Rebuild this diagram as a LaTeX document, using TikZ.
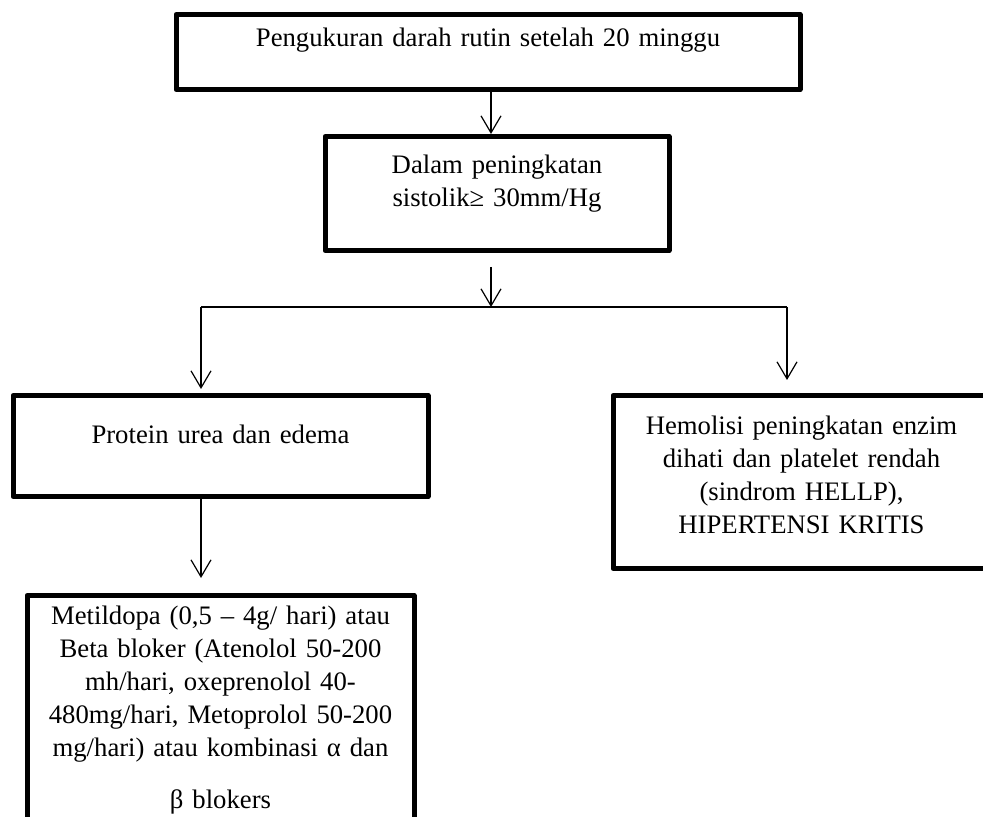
\documentclass[tikz,border=0pt]{standalone}
\usepackage{fontspec}
\setmainfont{Liberation Serif}
\usetikzlibrary{arrows.meta}

\begin{document}
\begin{tikzpicture}[x=0.5pt, y=-0.5pt,
		box/.style={draw, line width=2.5pt, line join=round, anchor=north, align=center, inner sep=0pt, font=\fontsize{13.35pt}{16.5pt}\selectfont},
		link/.style={line width=0.6pt, -{Straight Barb[length=8.5pt, width=10pt, line width=0.6pt]}}]
		\useasboundingbox (0,0) rectangle (983,817);
		
		\coordinate (cabang) at (491, 307);
		\coordinate (kiri) at (201, 307);
		\coordinate (kanan) at (787, 307);
		
		\node [box, text width=312pt, text height=16pt, text depth=21.5pt] (ukur) at (488, 12) {Pengukuran darah rutin setelah 20 minggu};
		\node [box, text width=172pt, text height=18.5pt, text depth=38.5pt] (naik) at (497, 134) {Dalam peningkatan\\sistolik≥ 30mm/Hg};
		\node [box, text width=207.5pt, text height=24pt, text depth=26.5pt] (protein) at (220.5, 393) {Protein urea dan edema};
		\node [box, text width=188.5pt, text height=19.5pt, text depth=67pt] (hellp) at (801.5, 393) {Hemolisi peningkatan enzim\\dihati dan platelet rendah\\(sindrom HELLP),\\HIPERTENSI KRITIS};
		\node [box, text width=193.5pt, text height=14.5pt, text depth=104pt] (obat) at (220.5, 593) {Metildopa (0,5 – 4g/ hari) atau\\Beta bloker (Atenolol 50-200\\mh/hari, oxeprenolol 40-\\480mg/hari, Metoprolol 50-200\\mg/hari) atau kombinasi α dan\par\vspace{9.5pt}β blokers};
		
		\draw [link] (ukur.south -| cabang) -- (naik.north -| cabang);
		\draw [link] ([yshift=-7pt]naik.south -| cabang) -- (cabang);
		\draw [line width=0.6pt] (kiri) -- (kanan);
		\draw [link, shorten >=2pt] (kiri) -- (kiri |- protein.north);
		\draw [link, shorten >=6.5pt] (kanan) -- (kanan |- hellp.north);
		\draw [link, shorten >=7.5pt] (protein.south -| kiri) -- (obat.north -| kiri);
	\end{tikzpicture}
\end{document}
